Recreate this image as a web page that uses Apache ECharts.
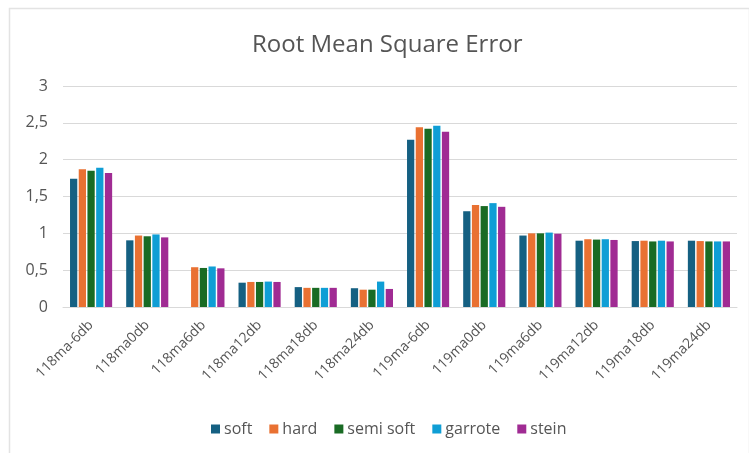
<!DOCTYPE html>
<html>
<head>
<meta charset="utf-8">
<script src="https://cdn.jsdelivr.net/npm/echarts@6/dist/echarts.min.js"></script>
<style>
  html, body { margin: 0; padding: 0; background: #ffffff; }
  #chart { width: 749px; height: 453px; }
</style>
</head>
<body>
<div id="chart"></div>
<script>
// Signal / noise-level cases
const categories = ['118ma-6db', '118ma0db', '118ma6db', '118ma12db', '118ma18db', '118ma24db',
                    '119ma-6db', '119ma0db', '119ma6db', '119ma12db', '119ma18db', '119ma24db'];

// RMSE per thresholding method
const soft     = [1.74, 0.905, null, 0.33, 0.27, 0.255, 2.27, 1.30, 0.97, 0.90, 0.895, 0.90];
const hard     = [1.87, 0.97, 0.54, 0.34, 0.26, 0.235, 2.44, 1.385, 1.00, 0.92, 0.90, 0.895];
const semiSoft = [1.85, 0.96, 0.53, 0.34, 0.26, 0.235, 2.42, 1.37, 1.00, 0.915, 0.89, 0.89];
const garrote  = [1.89, 0.985, 0.55, 0.345, 0.26, 0.345, 2.46, 1.41, 1.01, 0.92, 0.90, 0.89];
const stein    = [1.82, 0.945, 0.525, 0.34, 0.26, 0.245, 2.38, 1.36, 0.995, 0.91, 0.89, 0.89];

const seriesNames = ['soft', 'hard', 'semi soft', 'garrote', 'stein'];
const seriesData = [soft, hard, semiSoft, garrote, stein];
const colors = ['#156082', '#E97132', '#196B24', '#0F9ED5', '#A02B93'];

const FONT = '"Open Sans", "Noto Sans", sans-serif';
const TEXT = '#555555';

const chart = echarts.init(document.getElementById('chart'), null, { renderer: 'canvas' });

chart.setOption({
  backgroundColor: '#ffffff',
  animation: false,
  color: colors,
  textStyle: { fontFamily: FONT },
  title: {
    text: 'Root Mean Square Error',
    left: 247,
    top: 28,
    textStyle: { fontFamily: FONT, fontSize: 24, fontWeight: 'normal', color: TEXT }
  },
  graphic: [{
    type: 'rect',
    shape: { x: 9.5, y: 8.5, width: 740, height: 460 },
    style: { fill: 'none', stroke: '#e3e3e3', lineWidth: 1.5 },
    silent: true,
    z: -1
  }],
  legend: {
    data: seriesNames,
    bottom: 11,
    left: 206,
    icon: 'rect',
    itemWidth: 9,
    itemHeight: 9,
    itemGap: 17,
    textStyle: { fontFamily: FONT, fontSize: 16, color: TEXT, padding: [0, 0, 0, -1] }
  },
  grid: { left: 63, right: 12, top: 86, bottom: 146, containLabel: false },
  xAxis: {
    type: 'category',
    data: categories,
    axisLine: { lineStyle: { color: '#d9d9d9', width: 1 } },
    axisTick: { show: false },
    axisLabel: {
      rotate: 45,
      interval: 0,
      margin: 16,
      fontFamily: FONT,
      fontSize: 14,
      color: TEXT
    }
  },
  yAxis: {
    type: 'value',
    min: 0,
    max: 3,
    interval: 0.5,
    axisLine: { show: false },
    axisTick: { show: false },
    splitLine: { lineStyle: { color: '#d9d9d9', width: 1 } },
    axisLabel: {
      margin: 15,
      fontFamily: FONT,
      fontSize: 16,
      color: TEXT,
      formatter: v => String(v).replace('.', ',')
    }
  },
  series: seriesNames.map((name, i) => ({
    name: name,
    type: 'bar',
    data: seriesData[i],
    barGap: '20%',
    barCategoryGap: '25%',
    itemStyle: { color: colors[i] }
  }))
});
</script>
</body>
</html>
